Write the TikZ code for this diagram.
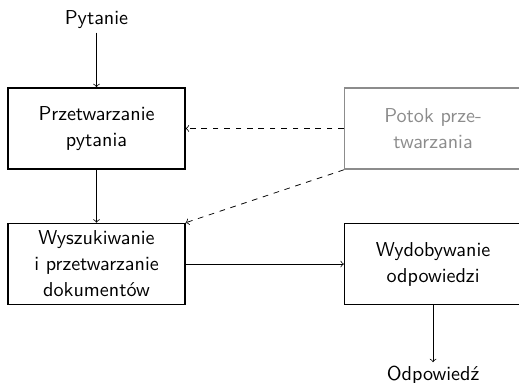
\documentclass[tikz,border=0pt]{standalone}
\usepackage{amsfonts, amsmath}
\usepackage{tikz}

\tikzset{
  krok/.style = {draw, thick, align=center, minimum width=3.27cm, minimum height=1.5cm, font=\sffamily\fontsize{10.6pt}{13.7pt}\selectfont},
  szary/.style = {krok, draw=black!45, text=black!45},
  etykieta/.style = {font=\sffamily\fontsize{10.6pt}{13.7pt}\selectfont, inner sep=2pt}
}

\begin{document}
\begin{tikzpicture}[>=to, baseline=(current  bounding  box.center)]
  \useasboundingbox (0,0) rectangle (9.6,7.067);
  \node[etykieta] (pytanie) at (1.785, 6.71) {Pytanie};
  \node[krok] (przetw) at (1.785, 4.69) {Przetwarzanie\\pytania};
  \node[szary] (potok) at (8.01, 4.69) {Potok prze-\\twarzania};
  \node[krok] (szukanie) at (1.785, 2.183) {Wyszukiwanie\\i przetwarzanie\\dokumentów};
  \node[krok] (wydob) at (8.01, 2.183) {Wydobywanie\\odpowiedzi};
  \node[etykieta] (odp) at (8.01, 0.12) {Odpowiedź};
  \draw[->] (pytanie) -- (przetw);
  \draw[->] (przetw) -- (szukanie);
  \draw[->] (szukanie) -- (wydob);
  \draw[->] (wydob) -- (odp);
  \draw[->, dashed] (potok) -- (przetw);
  \draw[->, dashed] (potok.south west) -- (szukanie.north east);
\end{tikzpicture}
\end{document}
